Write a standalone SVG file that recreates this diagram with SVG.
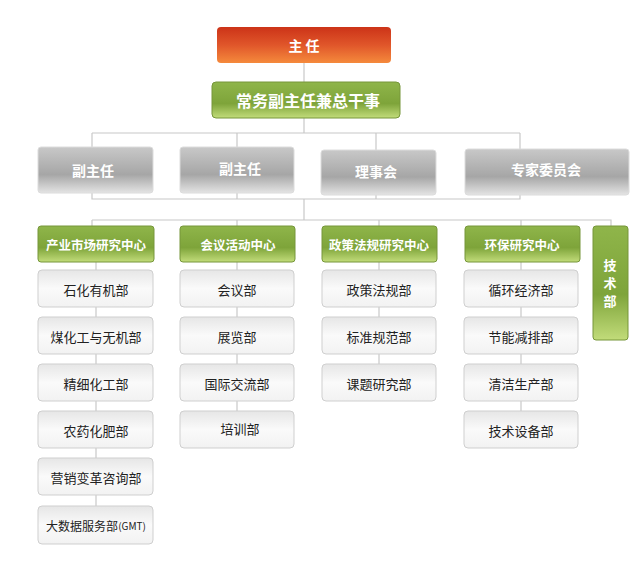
<svg xmlns="http://www.w3.org/2000/svg" width="640" height="572" viewBox="0 0 640 572">
<defs>
<linearGradient id="red" x1="0" y1="0" x2="0" y2="1"><stop offset="0" stop-color="#cc3318"/><stop offset="0.5" stop-color="#e0562a"/><stop offset="1" stop-color="#f58a3c"/></linearGradient>
<linearGradient id="green" x1="0" y1="0" x2="0" y2="1"><stop offset="0" stop-color="#8fb54a"/><stop offset="0.6" stop-color="#7ea43a"/><stop offset="1" stop-color="#c2dc7a"/></linearGradient>
<linearGradient id="gray" x1="0" y1="0" x2="0" y2="1"><stop offset="0" stop-color="#c8c8c8"/><stop offset="0.6" stop-color="#a6a6a6"/><stop offset="1" stop-color="#e4e4e4"/></linearGradient>
<linearGradient id="light" x1="0" y1="0" x2="0" y2="1"><stop offset="0" stop-color="#e6e6e6"/><stop offset="0.5" stop-color="#fafafa"/><stop offset="1" stop-color="#f2f2f2"/></linearGradient>
</defs>
<style>
text{font-family:"Noto Sans CJK SC","Liberation Sans",sans-serif;text-anchor:middle;dominant-baseline:central}
.w{fill:#fff;font-size:14px;font-weight:bold}
.d{fill:#222;font-size:13px}
.g{font-size:12.5px}
.v{font-size:13px}
.red{fill:url(#red)}
.grn{fill:url(#green);stroke:#76963a}
.gry{fill:url(#gray);stroke:#dcdcdc}
.lt{fill:url(#light);stroke:#cfcfcf}
.c{stroke:#c8c8c8;fill:none;stroke-width:1.2}
</style>
<g id="connectors">
<path class="c" d="M304 63V82M304 118V133M92 133H520M92 133V147M237 133V147M376 133V150M520 133V149M92 193V199H520V195M237 193V199M376 195V199M304 199V220M92 220H611V226M92 220V226M237 220V226M379 220V226M521 220V226"/>
<path class="c" d="M96 262V270M96 307V317M96 354V364M96 401V411M96 448V458M96 495V506M237 262V270M237 307V317M237 354V364M237 401V411M379 262V270M379 307V317M379 354V364M521 262V270M521 307V317M521 354V364M521 401V411"/>
</g>
<g id="n0"><rect class="red" x="217" y="27" width="174" height="36" rx="4"/><text class="w" x="304" y="45" font-size="15">主 任</text></g>
<g id="n1"><rect class="grn" x="212" y="82" width="188" height="36" rx="4"/><text class="w" x="308" y="100" style="font-size:16px">常务副主任兼总干事</text></g>
<g id="n2"><rect class="gry" x="38" y="147" width="115" height="46" rx="3"/><text class="w" x="93" y="170">副主任</text></g>
<g id="n3"><rect class="gry" x="180" y="147" width="114" height="46" rx="3"/><text class="w" x="240" y="168">副主任</text></g>
<g id="n4"><rect class="gry" x="321" y="150" width="115" height="45" rx="3"/><text class="w" x="376" y="171">理事会</text></g>
<g id="n5"><rect class="gry" x="465" y="149" width="164" height="46" rx="3"/><text class="w" x="546" y="169">专家委员会</text></g>
<g id="c1"><rect class="grn" x="38" y="226" width="116" height="36" rx="3"/><text class="w g" x="96" y="244">产业市场研究中心</text></g>
<g id="c2"><rect class="grn" x="180" y="226" width="115" height="36" rx="3"/><text class="w g" x="238" y="244">会议活动中心</text></g>
<g id="c3"><rect class="grn" x="322" y="226" width="115" height="36" rx="3"/><text class="w g" x="379" y="244">政策法规研究中心</text></g>
<g id="c4"><rect class="grn" x="465" y="226" width="115" height="36" rx="3"/><text class="w g" x="522" y="244">环保研究中心</text></g>
<g id="c5"><rect class="grn" x="593" y="226" width="35" height="114" rx="3"/><text class="w v" x="610" y="264">技</text><text class="w v" x="610" y="282">术</text><text class="w v" x="610" y="300">部</text></g>
<g id="d1"><rect class="lt" x="38" y="270" width="115" height="37" rx="4"/><text class="d" x="96" y="289">石化有机部</text></g>
<g id="d2"><rect class="lt" x="38" y="317" width="115" height="37" rx="4"/><text class="d" x="96" y="336">煤化工与无机部</text></g>
<g id="d3"><rect class="lt" x="38" y="364" width="115" height="37" rx="4"/><text class="d" x="96" y="383">精细化工部</text></g>
<g id="d4"><rect class="lt" x="38" y="411" width="115" height="37" rx="4"/><text class="d" x="96" y="430">农药化肥部</text></g>
<g id="d5"><rect class="lt" x="38" y="458" width="115" height="37" rx="4"/><text class="d" x="96" y="477">营销变革咨询部</text></g>
<g id="d6"><rect class="lt" x="38" y="506" width="115" height="38" rx="4"/><text class="d" x="96" y="525" style="font-size:12px">大数据服务部<tspan font-size="10">(GMT)</tspan></text></g>
<g id="e1"><rect class="lt" x="180" y="270" width="114" height="37" rx="4"/><text class="d" x="237" y="289">会议部</text></g>
<g id="e2"><rect class="lt" x="180" y="317" width="114" height="37" rx="4"/><text class="d" x="237" y="336">展览部</text></g>
<g id="e3"><rect class="lt" x="180" y="364" width="114" height="37" rx="4"/><text class="d" x="237" y="383">国际交流部</text></g>
<g id="e4"><rect class="lt" x="180" y="411" width="114" height="37" rx="4"/><text class="d" x="240" y="428">培训部</text></g>
<g id="f1"><rect class="lt" x="322" y="270" width="114" height="37" rx="4"/><text class="d" x="379" y="289">政策法规部</text></g>
<g id="f2"><rect class="lt" x="322" y="317" width="114" height="37" rx="4"/><text class="d" x="379" y="336">标准规范部</text></g>
<g id="f3"><rect class="lt" x="322" y="364" width="114" height="37" rx="4"/><text class="d" x="379" y="383">课题研究部</text></g>
<g id="h1"><rect class="lt" x="464" y="270" width="114" height="37" rx="4"/><text class="d" x="521" y="289">循环经济部</text></g>
<g id="h2"><rect class="lt" x="464" y="317" width="114" height="37" rx="4"/><text class="d" x="521" y="336">节能减排部</text></g>
<g id="h3"><rect class="lt" x="464" y="364" width="114" height="37" rx="4"/><text class="d" x="521" y="383">清洁生产部</text></g>
<g id="h4"><rect class="lt" x="464" y="411" width="114" height="37" rx="4"/><text class="d" x="521" y="430">技术设备部</text></g>
</svg>
